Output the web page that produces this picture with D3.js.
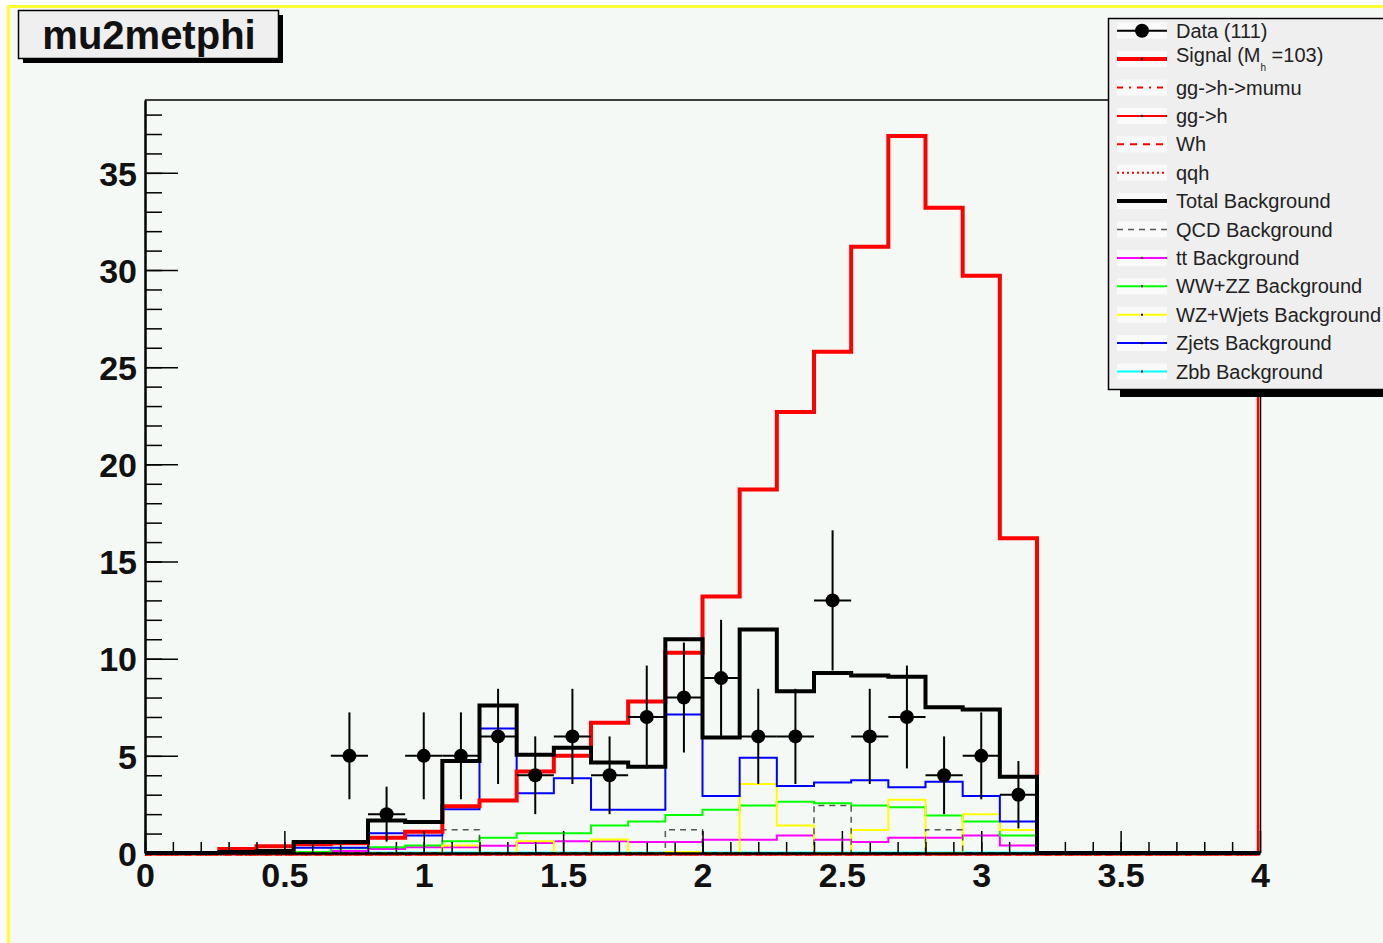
<!DOCTYPE html>
<html>
<head>
<meta charset="utf-8">
<script src="https://cdn.jsdelivr.net/npm/d3@7"></script>
<style>
  body { margin: 0; background: #ffffff; }
  svg { display: block; font-family: 'Liberation Sans', Arial, Helvetica, sans-serif; }
</style>
</head>
<body>
<svg width="1383" height="943"></svg>
<script>
// histogram binning: 30 bins on [0, 4], only the first 24 are filled
const nBins = 30
const xMin = 0
const xMax = 4

const dataCounts = [0, 0, 0, 0, 0, 5, 2, 5, 5, 6, 4, 6, 4, 7, 8, 9, 6, 6, 13, 6, 7, 4, 5, 3]
const signal = [0, 0, 0.2, 0.35, 0.45, 0.5, 0.78, 1.1, 2.4, 2.7, 4.2, 5.0, 6.7, 7.8, 10.3, 13.2, 18.7, 22.7, 25.8, 31.2, 36.9, 33.2, 29.7, 16.2]
const totalBkg = [0, 0, 0.05, 0.1, 0.56, 0.56, 1.67, 1.6, 4.74, 7.59, 5.05, 5.42, 4.66, 4.44, 11.0, 5.94, 11.5, 8.33, 9.26, 9.14, 9.07, 7.5, 7.38, 3.92]
const qcdBkg = [0, 0, 0, 0, 0, 0, 0, 0, 1.2, 0, 0, 0, 0, 0, 1.2, 0, 0, 0, 2.44, 0, 0, 1.2, 0, 0]
const ttBkg = [0, 0, 0, 0.08, 0.05, 0.1, 0.2, 0.3, 0.3, 0.37, 0.51, 0.6, 0.6, 0.56, 0.56, 0.68, 0.68, 0.9, 0.68, 0.56, 0.78, 0.78, 0.9, 0.39]
const wwzzBkg = [0, 0, 0, 0, 0.05, 0.25, 0.3, 0.39, 0.6, 0.78, 1.02, 1.02, 1.41, 1.62, 1.95, 2.22, 2.44, 2.64, 2.56, 2.44, 2.35, 1.93, 1.62, 0.9]
const wzBkg = [0, 0, 0, 0, 0, 0, 0, 0, 0.39, 0, 0.6, 0, 0.7, 0, 0.05, 0, 3.55, 1.41, 0, 1.19, 2.74, 0, 2.0, 1.19]
const zjetsBkg = [0, 0, 0, 0.05, 0.27, 0.27, 1.02, 0.9, 2.25, 6.41, 3.07, 3.85, 2.22, 2.22, 7.13, 2.93, 4.9, 3.45, 3.63, 3.75, 3.38, 3.67, 2.93, 1.62]
const zbbBkg = [0, 0, 0.03, 0.03, 0.03, 0.03, 0.03, 0.03, 0.03, 0.03, 0.03, 0.03, 0.03, 0.03, 0.03, 0.03, 0.03, 0.03, 0.03, 0.03, 0.03, 0.03, 0.03, 0.03]
const ggHmumu = [0, 0, 0, 0, 0, 0, 0, 0, 0, 0, 0, 0, 0, 0, 0, 0, 0, 0, 0, 0, 0, 0, 0, 0]
const ggH = [0, 0, 0, 0, 0, 0, 0, 0, 0, 0, 0, 0, 0, 0, 0, 0, 0, 0, 0, 0, 0, 0, 0, 0]
const wh = [0, 0, 0, 0, 0, 0, 0, 0, 0, 0, 0, 0, 0, 0, 0, 0, 0, 0, 0, 0, 0, 0, 0, 0]
const qqh = [0, 0, 0, 0, 0, 0, 0, 0, 0, 0, 0, 0, 0, 0, 0, 0, 0, 0, 0, 0, 0, 0, 0, 0]

const xTicks = [0, 0.5, 1, 1.5, 2, 2.5, 3, 3.5, 4]
const yTicks = [0, 5, 10, 15, 20, 25, 30, 35]
const yMax = 38.75

const title = 'mu2metphi'
const legendLabels = ['Data (111)', 'Signal', 'gg->h->mumu', 'gg->h', 'Wh', 'qqh', 'Total Background',
  'QCD Background', 'tt Background', 'WW+ZZ Background', 'WZ+Wjets Background', 'Zjets Background', 'Zbb Background']

const svg = d3.select('svg')

const frame = { left: 145, right: 1260, top: 100, bottom: 853 }
const x = d3.scaleLinear().domain([xMin, xMax]).range([frame.left, frame.right])
const y = d3.scaleLinear().domain([0, yMax]).range([frame.bottom, frame.top])
const bw = (xMax - xMin) / nBins

// canvas with the yellow border
svg.append('rect')
  .attr('x', 8.5).attr('y', 6.5).attr('width', 1420).attr('height', 1000)
  .attr('fill', '#f5f9f5').attr('stroke', '#ffff33').attr('stroke-width', 3)

// title box
const tg = svg.append('g')
tg.append('rect').attr('x', 23).attr('y', 15).attr('width', 260).attr('height', 48).attr('fill', '#000')
tg.append('rect').attr('x', 18.5).attr('y', 10.5).attr('width', 260).attr('height', 48)
  .attr('fill', '#efefef').attr('stroke', '#000').attr('stroke-width', 1.5)
tg.append('text').attr('x', 149).attr('y', 49).attr('text-anchor', 'middle')
  .attr('font-size', 40).attr('font-weight', 'bold').attr('fill', '#111').text(title)

const pad = (vals) => vals.concat(d3.range(nBins - vals.length).map(() => 0))

const stepPath = (vals) => {
  const full = pad(vals)
  const pts = full.map((v, i) => [xMin + i * bw, v])
  pts.push([xMax, full[full.length - 1]])
  return d3.line().x(d => x(d[0])).y(d => y(d[1])).curve(d3.curveStepAfter)(pts)
}

const plot = svg.append('g')

const hist = (vals, color, width, dash, shift = 0) => {
  plot.append('path')
    .attr('d', stepPath(vals))
    .attr('transform', `translate(0,${shift})`)
    .attr('fill', 'none')
    .attr('stroke', color)
    .attr('stroke-width', width)
    .attr('stroke-dasharray', dash || null)
}

hist(ggH, '#ff0000', 2, null, 1.5)
hist(qqh, '#ff0000', 2, '2,3', 1.5)
hist(zbbBkg, '#00ffff', 2, null, 0)
hist(ggHmumu, '#ff0000', 2, '6,6,2,6', 1.5)
hist(wh, '#ff0000', 2, '7,6', 1.5)
hist(ttBkg, '#ff00ff', 2)
hist(wwzzBkg, '#00ff00', 2)
hist(wzBkg, '#ffff00', 2)
hist(qcdBkg, '#555555', 1.5, '6,5')
hist(zjetsBkg, '#0000ff', 2)
hist(signal, '#ff0000', 4)
// signal outline closes up the right edge of the frame
plot.append('line')
  .attr('x1', x(xMax) - 2).attr('x2', x(xMax) - 2)
  .attr('y1', y(0)).attr('y2', y(yMax))
  .attr('stroke', '#ff0000').attr('stroke-width', 2.5)
hist(totalBkg, '#000000', 4)

// data points with sqrt(N) errors
const pts = dataCounts.map((n, i) => ({ n, i })).filter(d => d.n > 0)
const dg = plot.append('g').attr('stroke', '#000').attr('stroke-width', 2)
dg.selectAll('line.ex').data(pts).enter().append('line')
  .attr('x1', d => x(xMin + d.i * bw)).attr('x2', d => x(xMin + (d.i + 1) * bw))
  .attr('y1', d => y(d.n)).attr('y2', d => y(d.n))
dg.selectAll('line.ey').data(pts).enter().append('line')
  .attr('x1', d => x(xMin + (d.i + 0.5) * bw)).attr('x2', d => x(xMin + (d.i + 0.5) * bw))
  .attr('y1', d => y(d.n - Math.sqrt(d.n))).attr('y2', d => y(d.n + Math.sqrt(d.n)))
plot.selectAll('circle.pt').data(pts).enter().append('circle')
  .attr('cx', d => x(xMin + (d.i + 0.5) * bw)).attr('cy', d => y(d.n)).attr('r', 7).attr('fill', '#000')

// frame
svg.append('path')
  .attr('d', `M${frame.left},${frame.top}H${frame.right + 0.5}V${frame.bottom}`)
  .attr('fill', 'none').attr('stroke', '#000').attr('stroke-width', 1.5)

// axes, ticks pointing inside
const styleAxis = (g) => {
  g.select('.domain').attr('stroke', '#000').attr('stroke-width', 2)
  g.selectAll('.tick line').attr('stroke', '#000').attr('stroke-width', 1.5)
  g.selectAll('text').attr('font-size', 34).attr('font-weight', 'bold').attr('fill', '#111')
    .attr('font-family', "'Liberation Sans', Arial, sans-serif")
}

svg.append('g').attr('transform', `translate(${frame.left},0)`)
  .call(d3.axisLeft(y).tickValues(d3.range(0, 39, 1)).tickSizeInner(-17).tickSizeOuter(0).tickFormat(''))
  .call(styleAxis)
svg.append('g').attr('transform', `translate(${frame.left},0)`)
  .call(d3.axisLeft(y).tickValues(yTicks).tickSizeInner(-33).tickSizeOuter(0).tickPadding(8).tickFormat(d3.format('d')))
  .call(styleAxis)
  .call(g => g.selectAll('text').attr('dy', '0.36em'))

svg.append('g').attr('transform', `translate(0,${frame.bottom})`)
  .call(d3.axisBottom(x).tickValues(d3.range(0, 40, 1).map(d => d / 10)).tickSizeInner(-11).tickSizeOuter(0).tickFormat(''))
  .call(styleAxis)
svg.append('g').attr('transform', `translate(0,${frame.bottom})`)
  .call(d3.axisBottom(x).tickValues(xTicks).tickSizeInner(-22).tickSizeOuter(0).tickPadding(10).tickFormat(d => String(d)))
  .call(styleAxis)

// legend
const lg = svg.append('g')
lg.append('rect').attr('x', 1120).attr('y', 24).attr('width', 300).attr('height', 373).attr('fill', '#000')
lg.append('rect').attr('x', 1108.5).attr('y', 18.5).attr('width', 300).attr('height', 371)
  .attr('fill', '#efefef').attr('stroke', '#000').attr('stroke-width', 1.5)

const legendStyles = [
  { color: '#000', width: 2, dot: 'big' },
  { color: '#ff0000', width: 4 },
  { color: '#ff0000', width: 2, dash: '6,6,2,6' },
  { color: '#ff0000', width: 2 },
  { color: '#ff0000', width: 2, dash: '7,6' },
  { color: '#ff0000', width: 2, dash: '2,3' },
  { color: '#000', width: 4 },
  { color: '#555', width: 1.5, dash: '6,5' },
  { color: '#ff00ff', width: 2 },
  { color: '#00ff00', width: 2 },
  { color: '#ffff00', width: 2 },
  { color: '#0000ff', width: 2 },
  { color: '#00ffff', width: 2 }
]

legendLabels.forEach((label, k) => {
  const cy = 30.7 + k * 28.4
  const s = legendStyles[k]
  lg.append('rect').attr('x', 1117).attr('y', cy - 8).attr('width', 50).attr('height', 16)
    .attr('fill', '#fafafa')
  lg.append('line').attr('x1', 1117).attr('x2', 1167).attr('y1', cy).attr('y2', cy)
    .attr('stroke', s.color).attr('stroke-width', s.width).attr('stroke-dasharray', s.dash || null)
  if (s.dot === 'big') {
    lg.append('circle').attr('cx', 1142).attr('cy', cy).attr('r', 7).attr('fill', '#000')
  } else if (!s.dash && s.color !== '#000') {
    lg.append('rect').attr('x', 1141).attr('y', cy - 1).attr('width', 2).attr('height', 2).attr('fill', '#000')
  }
  const t = lg.append('text').attr('x', 1176).attr('y', cy + 7).attr('font-size', 20).attr('fill', '#222')
  if (label === 'Signal') {
    t.attr('y', cy + 3)
    t.append('tspan').text('Signal (M')
    t.append('tspan').attr('font-size', 10).attr('dy', 9).text('h')
    t.append('tspan').attr('dy', -9).text(' =103)')
  } else {
    t.text(label)
  }
})
</script>
</body>
</html>
